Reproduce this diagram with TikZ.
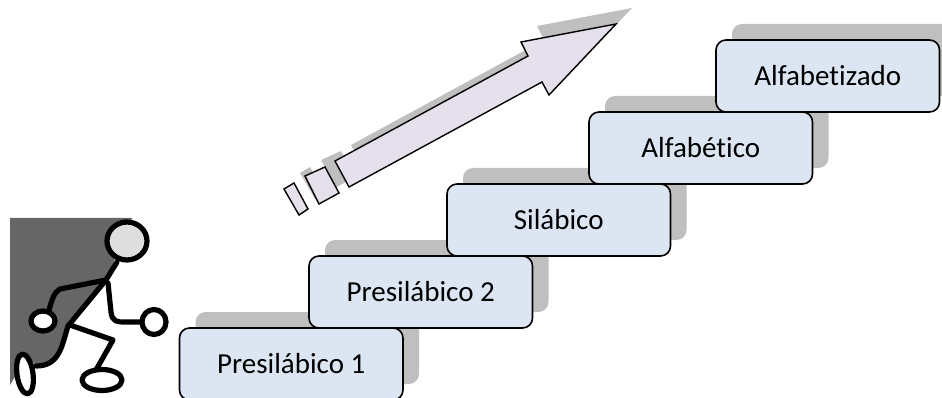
\documentclass[tikz,border=0pt]{standalone}
\usepackage{fontspec}
\setmainfont{Carlito}[RawFeature={-liga;-clig;-calt}]
\usetikzlibrary{positioning}
\usetikzlibrary{shadows}
\definecolor{boxfill}{HTML}{DCE6F2}
\definecolor{arrowfill}{HTML}{E6E0EC}
\definecolor{shadowgray}{HTML}{BFBFBF}
\begin{document}
\begin{tikzpicture}[x=1pt,y=-1pt]
    \tikzset{
      node distance=0pt,
      dropshadow/.style={general shadow={shadow xshift=16pt,shadow yshift=16pt,fill=shadowgray}},
      stagebox/.style={draw=black,line width=1.6pt,fill=boxfill,rounded corners=10pt,
        minimum width=223.5pt,minimum height=72pt,inner sep=0pt,outer sep=0pt,dropshadow,
        font=\fontsize{29}{34}\selectfont},
      arrowpart/.style={draw=black,line width=1.4pt,fill=arrowfill,line join=miter,dropshadow},
      stick/.style={draw=black,line width=5.2pt,line cap=round,line join=round},
    }
    \useasboundingbox (0,0) rectangle (942,398);

    % stairs
    \node[stagebox] (pre1) at (291.25,364) {Presilábico 1};
    \node[stagebox, above right=0pt and -94pt of pre1] (pre2) {Presilábico 2};
    \node[stagebox, above right=0pt and -85.5pt of pre2] (sil) {Silábico};
    \node[stagebox, above right=0pt and -81.5pt of sil] (alfa) {Alfabético};
    \node[stagebox, above right=0pt and -96.5pt of alfa] (alfz) {Alfabetizado};

    % arrow
    \path[arrowpart] (284,189) -- (294,183) -- (308,209) -- (299,215) -- cycle;
    \path[arrowpart] (305,176) -- (325,167) -- (339,193) -- (319,204) -- cycle;
    \path[arrowpart] (335,161) -- (528,56) -- (521,42) -- (616,24) -- (549,95) -- (542,82) -- (349,187) -- cycle;

    % runner
    \fill[black!60] (10,218) -- (132,218) -- (106,280) -- (68,326) .. controls (62,345) and (60,366) .. (36,366) -- (28,355) -- (10,385) -- cycle;
    \draw[stick,fill=black!13] (127,241) ellipse (20 and 19);
    \draw[stick] (117,262) -- (106,280) -- (60,289) .. controls (54,292) and (52,300) .. (49,310);
    \draw[stick] (106,280) -- (68,326);
    \draw[stick] (108,283) -- (111,312) .. controls (112,322) and (118,322) .. (124,322) -- (143,322);
    \draw[stick] (70,325) -- (113,340) -- (96,370);
    \draw[stick] (68,326) .. controls (62,345) and (60,366) .. (36,366);
    \draw[stick,fill=white] (43,321) ellipse (12 and 10);
    \draw[stick,fill=white] (154,322) ellipse (12 and 12.5);
    \draw[stick,fill=white] (102,380) ellipse (20 and 10.5);
    \draw[stick,fill=white,rotate around={8:(25,374)}] (25,374) ellipse (8 and 20);
\end{tikzpicture}
\end{document}
